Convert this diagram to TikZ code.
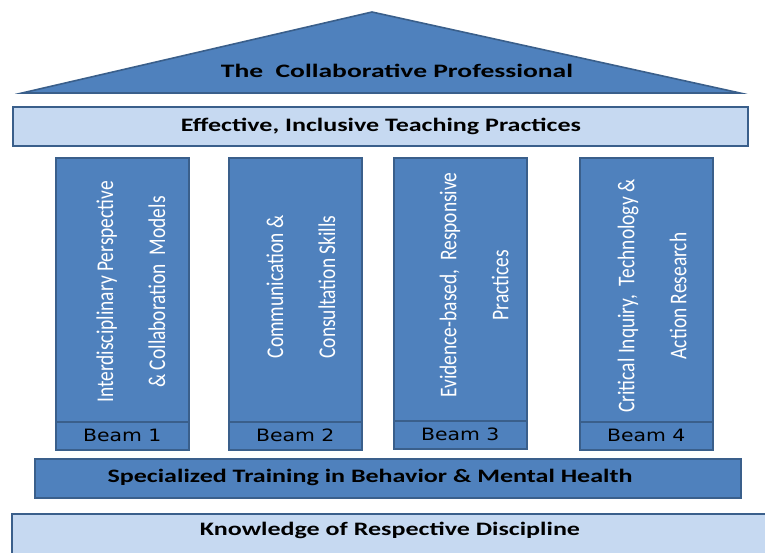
\documentclass[tikz,border=0pt]{standalone}
\usepackage{fontspec}
\setmainfont{Carlito}
\newfontfamily\narrowfont[FakeStretch=0.81]{Carlito}
\newfontfamily\titlefont[FakeStretch=1.37]{Carlito}
\newfontfamily\rooffont[FakeStretch=1.45]{Carlito}
\newfontfamily\beamfont[FakeStretch=1.2]{DejaVu Sans}
\definecolor{mainblue}{HTML}{4F81BD}
\definecolor{edgeblue}{HTML}{3A5F8B}
\definecolor{lightblue}{HTML}{C6D9F1}
\begin{document}
\begin{tikzpicture}[x=1pt,y=-1pt,
  bar/.style={draw=edgeblue, line width=1.6pt, anchor=north west, inner sep=0pt},
  darkbar/.style={bar, fill=mainblue},
  lightbar/.style={bar, fill=lightblue},
  colbox/.style={draw=edgeblue, line width=1.6pt, fill=mainblue, anchor=north west, inner sep=0pt, minimum width=133pt, minimum height=264pt},
  beambox/.style={draw=edgeblue, line width=1.6pt, fill=mainblue, anchor=north west, inner sep=0pt, minimum width=133pt, minimum height=28pt, font=\beamfont\fontsize{17}{19}\selectfont},
  coltext/.style={rotate=90, text=white, align=center, font=\narrowfont\fontsize{24}{52}\selectfont},
  title/.style={font=\titlefont\fontsize{19}{22}\selectfont\bfseries},
  rooftitle/.style={font=\rooffont\fontsize{19}{22}\selectfont\bfseries}
]
\useasboundingbox (0,0) rectangle (765,552);
\clip (0,0) rectangle (765,552);
% roof
\coordinate (apex) at (372,12);
\coordinate (rl) at (22,93);
\coordinate (rr) at (740,93);
\draw[draw=edgeblue, line width=1.6pt, fill=mainblue, line join=miter] (rl) -- (apex) -- (rr) -- cycle;
\node[rooftitle] (roof) at (397,71) {The\ \ Collaborative Professional};
% top bar
\node[lightbar, minimum width=735pt, minimum height=39pt] (top) at (12,106) {};
\node[title] (toptext) at (381,126) {Effective, Inclusive Teaching Practices};
% columns
\node[colbox] (c1) at (55,157) {};
\node[beambox] (b1) at (55,421) {Beam 1};
\node[colbox] (c2) at (228,157) {};
\node[beambox] (b2) at (228,421) {Beam 2};
\node[colbox] (c3) at (393,157) {};
\node[beambox] (b3) at (393,420) {Beam 3};
\node[colbox] (c4) at (579,157) {};
\node[beambox] (b4) at (579,421) {Beam 4};
\node[coltext] (t1) at (131,292) {Interdisciplinary Perspective\\ \& Collaboration\ \ Models};
\node[coltext] (t2) at (301,287) {Communication \&\\ Consultation Skills};
\node[coltext] (t3) at (474,285) {Evidence-based,\ \ Responsive\\ Practices};
\node[coltext] (t4) at (652,296) {Critical Inquiry,\ \ Technology \&\\ Action Research};
% specialized bar
\node[darkbar, minimum width=706pt, minimum height=39pt] (spec) at (34,458) {};
\node[title] (spectext) at (370,477) {Specialized Training in Behavior \& Mental Health};
% knowledge bar
\node[lightbar, minimum width=780pt, minimum height=50pt] (know) at (11,513) {};
\node[title] (knowtext) at (390,530) {Knowledge of Respective Discipline};
\end{tikzpicture}
\end{document}
